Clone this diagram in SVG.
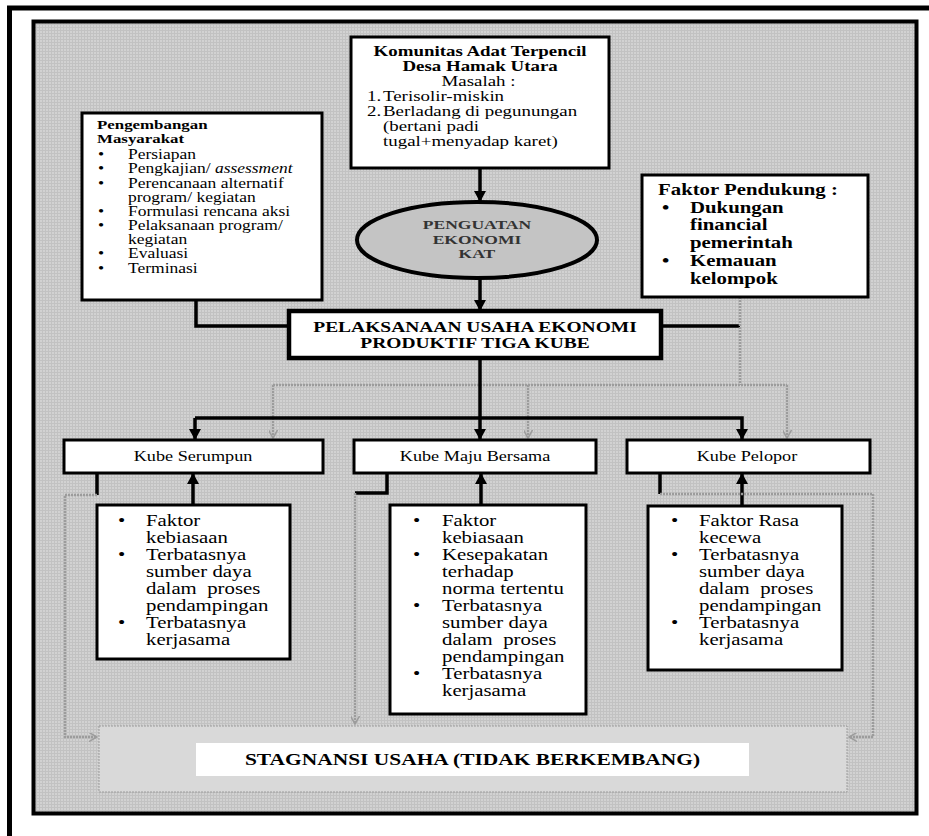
<svg xmlns="http://www.w3.org/2000/svg" width="929" height="836" viewBox="0 0 929 836">
<style>
.t{font-family:"Liberation Serif","Times New Roman",serif;fill:#000}
.b{font-weight:bold}
.pre{white-space:pre}
.box{fill:#fff;stroke:#000;stroke-width:3}
.ln{fill:none;stroke:#000;stroke-width:3.5}
.dt{fill:none;stroke:#9c9c9c;stroke-width:2.5;stroke-dasharray:2 1}
</style>
<defs>
<pattern id="grid" width="3" height="3" patternUnits="userSpaceOnUse">
<rect width="3" height="3" fill="#d2d2d2"/>
<path d="M0 0.5H3M0.5 0V3" stroke="#c2c2c2" stroke-width="1"/>
</pattern>
<marker id="ah" markerWidth="12" markerHeight="12" refX="10" refY="6" orient="auto" markerUnits="userSpaceOnUse">
<path d="M0,0 L11,6 L0,12 Z" fill="#000"/>
</marker>
<marker id="ag" markerWidth="9" markerHeight="9" refX="8" refY="4.5" orient="auto" markerUnits="userSpaceOnUse">
<path d="M0,0 L8,4.5 L0,9" fill="none" stroke="#9c9c9c" stroke-width="1.5"/>
</marker>
</defs>

<!-- outer frame -->
<path d="M9.5,836 V8 H929" fill="none" stroke="#000" stroke-width="5"/>
<!-- inner frame -->
<rect x="33.5" y="21.5" width="883" height="792" fill="url(#grid)" stroke="#000" stroke-width="4"/>

<g id="connectors">
<path class="ln" d="M480,168 V201" marker-end="url(#ah)"/>
<path class="ln" d="M480,278 V310" marker-end="url(#ah)"/>
<path class="ln" d="M196,300 V326 H289"/>
<path class="ln" d="M661,326 H740"/>
<path class="dt" d="M740,297 V385"/>
<path class="dt" d="M273,385 H787"/>
<path class="dt" d="M273,385 V438" marker-end="url(#ag)"/>
<path class="dt" d="M528,385 V438" marker-end="url(#ag)"/>
<path class="dt" d="M787,385 V438" marker-end="url(#ag)"/>
<path class="ln" d="M480,358 V439" marker-end="url(#ah)"/>
<path class="ln" d="M195,418 H742 V439" marker-end="url(#ah)"/>
<path class="ln" d="M195,418 V439" marker-end="url(#ah)"/>
<path class="ln" d="M193,505 V474" marker-end="url(#ah)"/>
<path class="ln" d="M481,505 V474" marker-end="url(#ah)"/>
<path class="ln" d="M742,506 V474" marker-end="url(#ah)"/>
<path class="ln" d="M97,473 V495"/>
<path class="dt" d="M97,495 H65 V737 H97" marker-end="url(#ag)"/>
<path class="ln" d="M387,473 V493 H355"/>
<path class="dt" d="M355,493 V724" marker-end="url(#ag)"/>
<path class="ln" d="M660,473 V494"/>
<path class="dt" d="M660,494 H873 V737 H849" marker-end="url(#ag)"/>
</g>

<g id="komunitas">
<rect class="box" x="351" y="37" width="258" height="131"/>
<g class="t" transform="scale(1.35,1)" font-size="14">
<text class="b" x="355.6" y="56" text-anchor="middle">Komunitas Adat Terpencil</text>
<text class="b" x="355.6" y="71" text-anchor="middle">Desa Hamak Utara</text>
<text x="354.5" y="86" text-anchor="middle">Masalah :</text>
<text x="271.9" y="101">1.</text><text x="283.7" y="101">Terisolir-miskin</text>
<text x="271.9" y="116">2.</text><text x="283.7" y="116">Berladang di pegunungan</text>
<text x="283.7" y="131">(bertani padi</text>
<text x="283.7" y="146">tugal+menyadap karet)</text>
</g>
</g>

<g id="pengembangan">
<rect class="box" x="82" y="113" width="240" height="187"/>
<g class="t" transform="scale(1.25,1)" font-size="14">
<text class="b" x="77.6" y="129" font-size="13.5">Pengembangan</text>
<text class="b" x="77.6" y="143" font-size="13.5">Masyarakat</text>
<text x="78.4" y="159">•</text><text x="102.4" y="159">Persiapan</text>
<text x="78.4" y="173">•</text><text x="102.4" y="173">Pengkajian/ <tspan font-style="italic">assessment</tspan></text>
<text x="78.4" y="188">•</text><text x="102.4" y="188">Perencanaan alternatif</text>
<text x="102.4" y="202">program/ kegiatan</text>
<text x="78.4" y="216">•</text><text x="102.4" y="216">Formulasi rencana aksi</text>
<text x="78.4" y="230">•</text><text x="102.4" y="230">Pelaksanaan program/</text>
<text x="102.4" y="244">kegiatan</text>
<text x="78.4" y="258">•</text><text x="102.4" y="258">Evaluasi</text>
<text x="78.4" y="273">•</text><text x="102.4" y="273">Terminasi</text>
</g>
</g>

<g id="faktor-pendukung">
<rect class="box" x="642" y="175" width="226" height="122"/>
<g class="t b" transform="scale(1.3,1)" font-size="16">
<text x="506.2" y="195">Faktor Pendukung :</text>
<text x="509.2" y="213">•</text><text x="530.8" y="213">Dukungan</text>
<text x="530.8" y="230">financial</text>
<text x="530.8" y="248">pemerintah</text>
<text x="509.2" y="266">•</text><text x="530.8" y="266">Kemauan</text>
<text x="530.8" y="284">kelompok</text>
</g>
</g>

<g id="penguatan">
<ellipse cx="477" cy="240" rx="120" ry="38" fill="#c4c4c4" stroke="#000" stroke-width="4"/>
<g class="t b" transform="scale(1.3,1)" font-size="13.5" style="fill:#333">
<text x="366.9" y="229" text-anchor="middle" style="fill:#333">PENGUATAN</text>
<text x="366.9" y="244" text-anchor="middle" style="fill:#333">EKONOMI</text>
<text x="366.9" y="258" text-anchor="middle" style="fill:#333">KAT</text>
</g>
</g>

<g id="pelaksanaan">
<rect x="289" y="311" width="372" height="47" fill="#fff" stroke="#000" stroke-width="4.5"/>
<g class="t b" transform="scale(1.3,1)" font-size="15">
<text x="365.4" y="332" text-anchor="middle">PELAKSANAAN USAHA EKONOMI</text>
<text x="365.4" y="348" text-anchor="middle">PRODUKTIF TIGA KUBE</text>
</g>
</g>

<g id="kube-serumpun">
<rect class="box" x="64" y="440" width="259" height="33"/>
<text class="t" transform="scale(1.3,1)" font-size="14" x="148.5" y="461" text-anchor="middle">Kube Serumpun</text>
</g>
<g id="kube-maju-bersama">
<rect class="box" x="354" y="440" width="242" height="33"/>
<text class="t" transform="scale(1.3,1)" font-size="14" x="365.4" y="461" text-anchor="middle">Kube Maju Bersama</text>
</g>
<g id="kube-pelopor">
<rect class="box" x="627" y="440" width="243" height="33"/>
<text class="t" transform="scale(1.3,1)" font-size="14" x="574.6" y="461" text-anchor="middle">Kube Pelopor</text>
</g>

<g id="hambatan-serumpun">
<rect class="box" x="97" y="505" width="193" height="154"/>
<g class="t" transform="scale(1.3,1)" font-size="16">
<text x="90.8" y="526">•</text><text x="112.3" y="526">Faktor</text>
<text x="112.3" y="543">kebiasaan</text>
<text x="90.8" y="560">•</text><text x="112.3" y="560">Terbatasnya</text>
<text x="112.3" y="577">sumber daya</text>
<text class="pre" x="112.3" y="594">dalam  proses</text>
<text x="112.3" y="611">pendampingan</text>
<text x="90.8" y="628">•</text><text x="112.3" y="628">Terbatasnya</text>
<text x="112.3" y="645">kerjasama</text>
</g>
</g>

<g id="hambatan-maju-bersama">
<rect class="box" x="390" y="505" width="196" height="209"/>
<g class="t" transform="scale(1.3,1)" font-size="16">
<text x="317.7" y="526">•</text><text x="340" y="526">Faktor</text>
<text x="340" y="543">kebiasaan</text>
<text x="317.7" y="560">•</text><text x="340" y="560">Kesepakatan</text>
<text x="340" y="577">terhadap</text>
<text x="340" y="594">norma tertentu</text>
<text x="317.7" y="611">•</text><text x="340" y="611">Terbatasnya</text>
<text x="340" y="628">sumber daya</text>
<text class="pre" x="340" y="645">dalam  proses</text>
<text x="340" y="662">pendampingan</text>
<text x="317.7" y="679">•</text><text x="340" y="679">Terbatasnya</text>
<text x="340" y="696">kerjasama</text>
</g>
</g>

<g id="hambatan-pelopor">
<rect class="box" x="648" y="506" width="194" height="164"/>
<g class="t" transform="scale(1.3,1)" font-size="16">
<text x="516.2" y="526">•</text><text x="537.7" y="526">Faktor Rasa</text>
<text x="537.7" y="543">kecewa</text>
<text x="516.2" y="560">•</text><text x="537.7" y="560">Terbatasnya</text>
<text x="537.7" y="577">sumber daya</text>
<text class="pre" x="537.7" y="594">dalam  proses</text>
<text x="537.7" y="611">pendampingan</text>
<text x="516.2" y="628">•</text><text x="537.7" y="628">Terbatasnya</text>
<text x="537.7" y="645">kerjasama</text>
</g>
</g>

<g id="stagnansi">
<rect x="99" y="726" width="748" height="66" fill="#d9d9d9" stroke="#9c9c9c" stroke-width="1" stroke-dasharray="2 1"/>
<rect x="196" y="743" width="553" height="33" fill="#fff"/>
<text class="t b" transform="scale(1.3,1)" font-size="16.5" x="363.5" y="765" text-anchor="middle">STAGNANSI USAHA (TIDAK BERKEMBANG)</text>
</g>
</svg>
